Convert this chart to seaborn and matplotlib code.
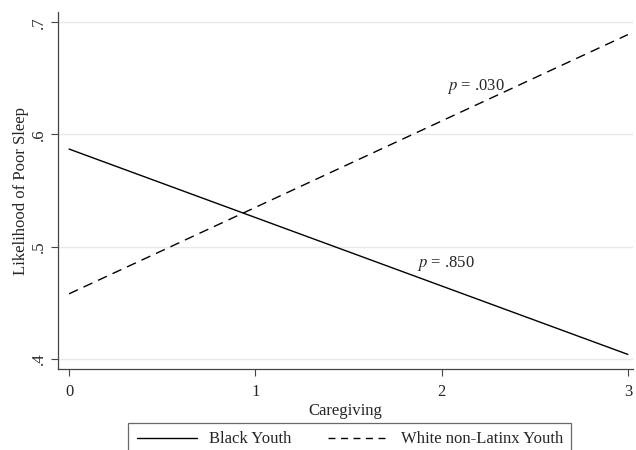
import pandas as pd
import matplotlib
matplotlib.use("Agg")
import matplotlib.pyplot as plt
import seaborn as sns

# predicted likelihood of poor sleep by caregiving level
caregiving = [0, 1, 2, 3]
black_youth = [0.587, 0.526, 0.465, 0.404]
white_youth = [0.458, 0.535, 0.612, 0.689]
groups = ["Black Youth", "White non-Latinx Youth"]
y_ticks = [0.4, 0.5, 0.6, 0.7]
y_tick_labels = [".4", ".5", ".6", ".7"]

df = pd.DataFrame({
    "Caregiving": caregiving * 2,
    "Likelihood": black_youth + white_youth,
    "Group": [groups[0]] * 4 + [groups[1]] * 4,
})

sns.set_style("white")
plt.rcParams["font.family"] = ["Liberation Serif", "DejaVu Serif"]
plt.rcParams["mathtext.fontset"] = "stix"
fs = 12

fig = plt.figure(figsize=(6.36, 4.5), dpi=100)
ax = fig.add_axes([0.091, 0.18, 0.905, 0.793])

sns.lineplot(data=df, x="Caregiving", y="Likelihood", style="Group",
             dashes={groups[0]: "", groups[1]: (7, 4.5)},
             color="black", linewidth=1.0, ax=ax, legend=False)

ax.set_xlim(-0.06, 3.03)
ax.set_ylim(0.391, 0.709)
ax.set_xticks(caregiving)
ax.set_yticks(y_ticks)
ax.set_yticklabels(y_tick_labels, rotation=90, va="center")
ax.grid(axis="y", color="#e8e8e8", linewidth=1.0)
ax.set_axisbelow(True)

for side in ["top", "right"]:
    ax.spines[side].set_visible(False)
for side in ["left", "bottom"]:
    ax.spines[side].set_color("#444444")
    ax.spines[side].set_linewidth(0.9)
ax.tick_params(direction="out", length=5, width=0.8, color="#444444",
               labelsize=fs, left=True, bottom=True)
ax.tick_params(axis="x", pad=6)
ax.tick_params(axis="y", pad=3)

ax.set_xlabel("Caregiving", fontsize=fs, labelpad=2)
ax.set_ylabel("Likelihood of Poor Sleep", fontsize=fs, labelpad=1)

ax.text(2.03, 0.643, "$p$ = .030", fontsize=fs, ha="left", va="center")
ax.text(1.87, 0.485, "$p$ = .850", fontsize=fs, ha="left", va="center")

handles = [plt.Line2D([], [], color="black", linewidth=1.0),
           plt.Line2D([], [], color="black", linewidth=1.0, linestyle=(0, (5, 4)))]
leg = fig.legend(handles, groups, loc="upper center", bbox_to_anchor=(0.55, 0.06),
                 ncol=2, frameon=True, fancybox=False, edgecolor="#444444",
                 fontsize=fs, handlelength=3.6, handletextpad=0.75,
                 columnspacing=2.2, borderpad=0.5, borderaxespad=0)
leg.get_frame().set_linewidth(0.9)

fig.savefig("out.png", dpi=100)
